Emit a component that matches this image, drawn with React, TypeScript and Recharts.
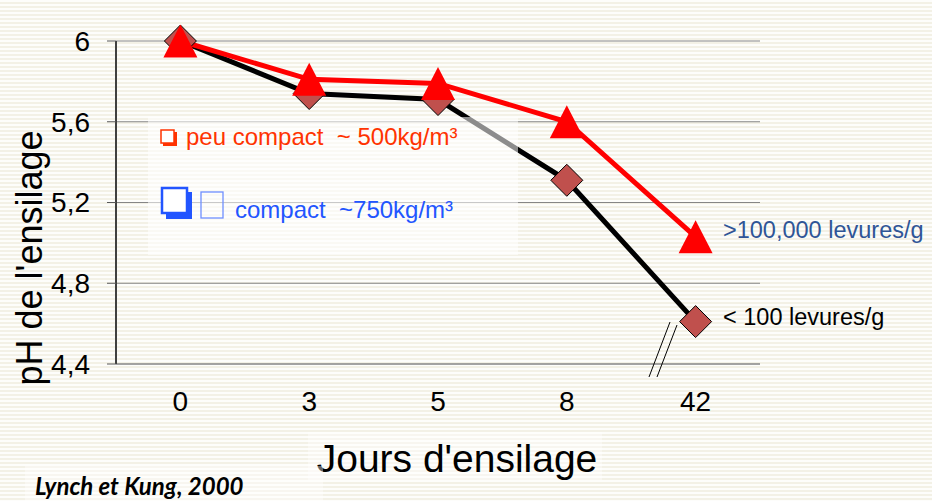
import React from 'react';
import { LineChart, Line, XAxis, YAxis, CartesianGrid } from 'recharts';

// Jours d'ensilage et pH mesurés
const jours = ['0', '3', '5', '8', '42'];
const phPeuCompact = [6.0, 5.81, 5.79, 5.6, 5.03];
const phCompact = [6.0, 5.74, 5.71, 5.31, 4.61];
const yTicks = [4.4, 4.8, 5.2, 5.6, 6];

const data = jours.map((jour, i) => ({
  jour,
  peuCompact: phPeuCompact[i],
  compact: phCompact[i],
}));

const W = 932;
const H = 501;
const FONT = '"Liberation Sans", Arial, sans-serif';

const Triangle = (props: any) => {
  const { cx, cy } = props;
  if (cx == null || cy == null) return null;
  return (
    <polygon
      points={`${cx},${cy - 16.5} ${cx + 17},${cy + 16.5} ${cx - 17},${cy + 16.5}`}
      fill="#ff0000"
    />
  );
};

const Diamond = (props: any) => {
  const { cx, cy } = props;
  if (cx == null || cy == null) return null;
  return (
    <polygon
      points={`${cx},${cy - 16} ${cx + 16},${cy} ${cx},${cy + 16} ${cx - 16},${cy}`}
      fill="#c0504d"
      stroke="#000"
      strokeWidth={1}
    />
  );
};

export default function App() {
  return (
    <div
      style={{
        position: 'absolute',
        left: 0,
        top: 0,
        width: W,
        height: H,
        fontFamily: FONT,
        background:
          'repeating-linear-gradient(to bottom, #fdfdfb 0px, #fdfdfb 2.5px, #f3f1e6 2.5px, #f3f1e6 4px)',
      }}
    >
      <LineChart
        width={W}
        height={H}
        data={data}
        margin={{ top: 41, right: 172, left: 0, bottom: 97 }}
      >
        <CartesianGrid vertical={false} stroke="#868686" strokeWidth={1} />
        <XAxis
          dataKey="jour"
          height={40}
          padding={{ left: 64.4, right: 64.4 }}
          axisLine={{ stroke: '#868686', strokeWidth: 1 }}
          tickLine={false}
          tickMargin={21}
          tick={{ fontSize: 28, fill: '#000', fontFamily: FONT }}
        />
        <YAxis
          width={116}
          domain={[4.4, 6]}
          ticks={yTicks}
          interval={0}
          tickSize={9}
          tickMargin={17}
          axisLine={{ stroke: '#404040', strokeWidth: 2 }}
          tickLine={{ stroke: '#595959' }}
          tickFormatter={(v: number) => String(v).replace('.', ',')}
          tick={{ fontSize: 28, fill: '#000', fontFamily: FONT }}
        />
        <Line
          type="linear"
          dataKey="compact"
          stroke="#000"
          strokeWidth={5}
          dot={<Diamond />}
          activeDot={false}
          isAnimationActive={false}
        />
        <Line
          type="linear"
          dataKey="peuCompact"
          stroke="#ff0000"
          strokeWidth={5}
          dot={<Triangle />}
          activeDot={false}
          isAnimationActive={false}
        />
      </LineChart>

      <svg
        width={W}
        height={H}
        style={{ position: 'absolute', left: 0, top: 0, pointerEvents: 'none' }}
        fontFamily={FONT}
      >
        {/* encadré de légende, semi-transparent */}
        <rect x={148} y={117} width={370} height={138} fill="#fff" opacity={0.55} />
        <rect x={163} y={132} width={14} height={14} fill="#ff3300" />
        <rect x={161} y={130} width={13} height={13} fill="#fff" stroke="#ff3300" strokeWidth={1.5} />
        <text x={186} y={145} fontSize={24} fill="#ff3300">
          peu compact {'\u00a0'}~ 500kg/m³
        </text>
        <rect x={166} y={192} width={26} height={27} fill="#2255ff" />
        <rect x={162} y={188} width={25} height={25} fill="#fff" stroke="#2255ff" strokeWidth={2.5} />
        <rect x={201} y={192} width={22} height={26} fill="none" stroke="#6f8fff" strokeWidth={1.3} />
        <text x={235} y={218} fontSize={24} fill="#2255ff">
          compact {'\u00a0'}~750kg/m³
        </text>

        {/* rupture d'échelle sur l'axe des jours */}
        <line x1={649} y1={377} x2={670} y2={322} stroke="#000" strokeWidth={1} />
        <line x1={657} y1={377} x2={677} y2={325} stroke="#000" strokeWidth={1} />

        <text x={723} y={238} fontSize={23.5} fill="#2f5597">
          &gt;100,000 levures/g
        </text>
        <text x={723} y={325} fontSize={23.5} fill="#000">
          &lt; 100 levures/g
        </text>

        <text
          x={42}
          y={258}
          fontSize={36}
          fill="#000"
          textAnchor="middle"
          transform="rotate(-90 42 258)"
        >
          pH de l'ensilage
        </text>

        <rect x={308} y={432} width={294} height={48} fill="#fff" opacity={0.4} />
        <text x={457} y={472} fontSize={39} fill="#000" textAnchor="middle">
          Jours d'ensilage
        </text>

        <rect x={25} y={466} width={298} height={35} fill="#fff" opacity={0.4} />
        <text
          x={35}
          y={495}
          fontSize={24}
          fontWeight={700}
          fontStyle="italic"
          fontFamily="Lato, sans-serif"
          fill="#000"
        >
          Lynch et Kung, 2000
        </text>
      </svg>
    </div>
  );
}
